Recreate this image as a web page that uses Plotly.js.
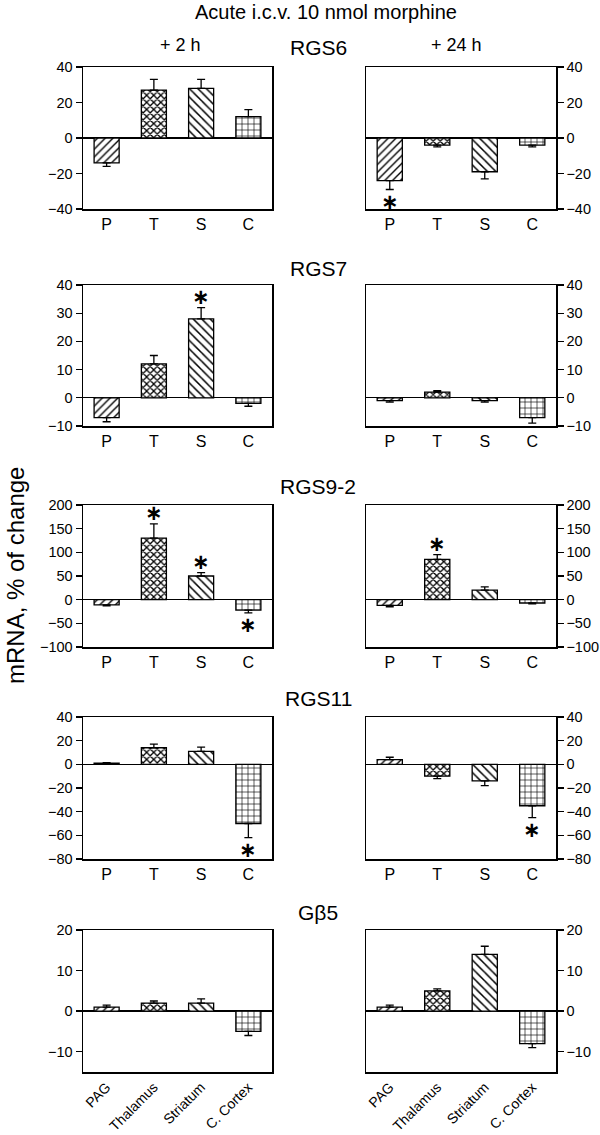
<!DOCTYPE html>
<html><head><meta charset="utf-8">
<script src="https://cdn.plot.ly/plotly-3.0.1.min.js"></script>
<style>html,body{margin:0;padding:0;background:#fff}#chart{width:600px;height:1135px}</style>
</head><body><div id="chart"></div>
<script>
// ---- data ----
const regionsShort = ['P', 'T', 'S', 'C'];
const regionsFull = ['PAG', 'Thalamus', 'Striatum', 'C. Cortex'];
const genes = ['RGS6', 'RGS7', 'RGS9-2', 'RGS11', 'Gβ5'];
const timepoints = ['+ 2 h', '+ 24 h'];

const rgs6_2h = [-14, 27, 28, 12];
const rgs6_2h_err = [2, 6, 5, 4];
const rgs6_2h_sig = [false, false, false, false];
const rgs6_24h = [-24, -4, -19, -4];
const rgs6_24h_err = [5, 1, 4, 1];
const rgs6_24h_sig = [true, false, false, false];

const rgs7_2h = [-7, 12, 28, -2];
const rgs7_2h_err = [1.5, 3, 4, 1];
const rgs7_2h_sig = [false, false, true, false];
const rgs7_24h = [-1, 2, -1, -7];
const rgs7_24h_err = [0.5, 0.5, 0.5, 2];
const rgs7_24h_sig = [false, false, false, false];

const rgs92_2h = [-11, 130, 50, -22];
const rgs92_2h_err = [2, 30, 7, 6];
const rgs92_2h_sig = [false, true, true, true];
const rgs92_24h = [-12, 85, 20, -7];
const rgs92_24h_err = [3, 10, 7, 2];
const rgs92_24h_sig = [false, true, false, false];

const rgs11_2h = [1, 14, 11, -50];
const rgs11_2h_err = [0.5, 3, 3.5, 12];
const rgs11_2h_sig = [false, false, false, true];
const rgs11_24h = [4, -10, -14, -35];
const rgs11_24h_err = [2, 2, 4, 10];
const rgs11_24h_sig = [false, false, false, true];

const gb5_2h = [1, 2, 2, -5];
const gb5_2h_err = [0.5, 0.5, 1, 1];
const gb5_2h_sig = [false, false, false, false];
const gb5_24h = [1, 5, 14, -8];
const gb5_24h_err = [0.5, 0.5, 2, 1];
const gb5_24h_sig = [false, false, false, false];

const yRanges = [[-40, 40], [-10, 40], [-100, 200], [-80, 40], [-15, 20]];
const yDtick = [20, 10, 50, 20, 10];

// ---- build ----
const panels = [
  [rgs6_2h, rgs6_2h_err, rgs6_2h_sig, rgs6_24h, rgs6_24h_err, rgs6_24h_sig],
  [rgs7_2h, rgs7_2h_err, rgs7_2h_sig, rgs7_24h, rgs7_24h_err, rgs7_24h_sig],
  [rgs92_2h, rgs92_2h_err, rgs92_2h_sig, rgs92_24h, rgs92_24h_err, rgs92_24h_sig],
  [rgs11_2h, rgs11_2h_err, rgs11_2h_sig, rgs11_24h, rgs11_24h_err, rgs11_24h_sig],
  [gb5_2h, gb5_2h_err, gb5_2h_sig, gb5_24h, gb5_24h_err, gb5_24h_sig]
];

const W = 600, H = 1135;
const colPx = [[83, 272], [366, 556]];
const rowPx = [[67, 209], [285, 426], [505, 647], [717, 859], [930, 1072]];
const titleY = [47, 268, 487, 698, 912];
const FONT = 'Arial, "Liberation Sans", sans-serif';

const patShapes = ['/', 'x', '\\', '+'];
const patSizes = [5.5, 5, 6, 6];
const patSolid = [0.25, 0.45, 0.25, 0.2];

const data = [];
const layout = {
  width: W, height: H,
  margin: {l: 0, r: 0, t: 0, b: 0},
  paper_bgcolor: 'white', plot_bgcolor: 'white',
  showlegend: false,
  font: {family: FONT, color: 'black', size: 14},
  annotations: [],
  bargap: 0.47
};

let idx = 0;
for (let r = 0; r < 5; r++) {
  for (let c = 0; c < 2; c++) {
    idx++;
    const vals = panels[r][c * 3];
    const errs = panels[r][c * 3 + 1];
    const sig = panels[r][c * 3 + 2];
    const xa = 'x' + (idx === 1 ? '' : idx);
    const ya = 'y' + (idx === 1 ? '' : idx);
    const cats = r === 4 ? regionsFull : regionsShort;
    data.push({
      type: 'bar', x: cats, y: vals, xaxis: xa, yaxis: ya,
      marker: {
        color: 'white',
        line: {color: 'black', width: 1.3},
        pattern: {shape: patShapes, size: patSizes, solidity: patSolid, fgcolor: 'black', bgcolor: 'white', fillmode: 'replace'}
      },
      error_y: {
        type: 'data', symmetric: false,
        array: vals.map((v, i) => v >= 0 ? errs[i] : 0),
        arrayminus: vals.map((v, i) => v < 0 ? errs[i] : 0),
        color: 'black', thickness: 1.3, width: 4
      },
      hoverinfo: 'none'
    });
    const xKey = 'xaxis' + (idx === 1 ? '' : idx);
    const yKey = 'yaxis' + (idx === 1 ? '' : idx);
    layout[xKey] = {
      domain: [colPx[c][0] / W, colPx[c][1] / W],
      anchor: ya, type: 'category', range: [-0.5, 3.5],
      showline: true, mirror: true, linecolor: 'black', linewidth: 1.5,
      ticks: '', showgrid: false, zeroline: false,
      tickangle: r === 4 ? -45 : 0,
      tickfont: {family: FONT, size: r === 4 ? 14 : 16, color: 'black'},
      fixedrange: true
    };
    layout[yKey] = {
      domain: [1 - rowPx[r][1] / H, 1 - rowPx[r][0] / H],
      anchor: xa, range: yRanges[r], dtick: yDtick[r], tick0: 0,
      side: c === 0 ? 'left' : 'right',
      showline: true, mirror: true, linecolor: 'black', linewidth: 1.5,
      ticks: 'outside', ticklen: 6, tickwidth: 1.3, tickcolor: 'black',
      showgrid: false, zeroline: true, zerolinecolor: 'black', zerolinewidth: 1.3,
      tickfont: {family: FONT, size: 14.5, color: 'black'},
      fixedrange: true
    };
    // significance asterisks
    vals.forEach((v, i) => {
      if (!sig[i]) return;
      const tip = v >= 0 ? v + errs[i] : v - errs[i];
      layout.annotations.push({
        xref: xa, yref: ya, x: cats[i], y: tip,
        text: '<b>∗</b>', showarrow: false,
        font: {family: '"DejaVu Sans", sans-serif', size: 21, color: 'black'},
        borderpad: 0,
        yanchor: 'middle',
        yshift: v >= 0 ? 10.5 : -12.5
      });
    });
  }
  layout.annotations.push({
    xref: 'paper', yref: 'paper', x: 318 / W, y: 1 - titleY[r] / H,
    text: genes[r], showarrow: false, xanchor: 'center', yanchor: 'middle',
    font: {family: FONT, size: 21, color: 'black'}
  });
}

layout.annotations.push({
  xref: 'paper', yref: 'paper', x: 326 / W, y: 1 - 12 / H,
  text: 'Acute i.c.v. 10 nmol morphine', showarrow: false, xanchor: 'center', yanchor: 'middle',
  font: {family: FONT, size: 20, color: 'black'}
});
layout.annotations.push({
  xref: 'paper', yref: 'paper', x: 180 / W, y: 1 - 45 / H,
  text: timepoints[0], showarrow: false, xanchor: 'center', yanchor: 'middle',
  font: {family: FONT, size: 18, color: 'black'}
});
layout.annotations.push({
  xref: 'paper', yref: 'paper', x: 456 / W, y: 1 - 45 / H,
  text: timepoints[1], showarrow: false, xanchor: 'center', yanchor: 'middle',
  font: {family: FONT, size: 18, color: 'black'}
});
layout.annotations.push({
  xref: 'paper', yref: 'paper', x: 15 / W, y: 1 - 576 / H,
  text: 'mRNA, % of change', showarrow: false, textangle: -90,
  xanchor: 'center', yanchor: 'middle',
  font: {family: FONT, size: 24, color: 'black'}
});

Plotly.newPlot('chart', data, layout, {staticPlot: true, displayModeBar: false});
</script></body></html>
